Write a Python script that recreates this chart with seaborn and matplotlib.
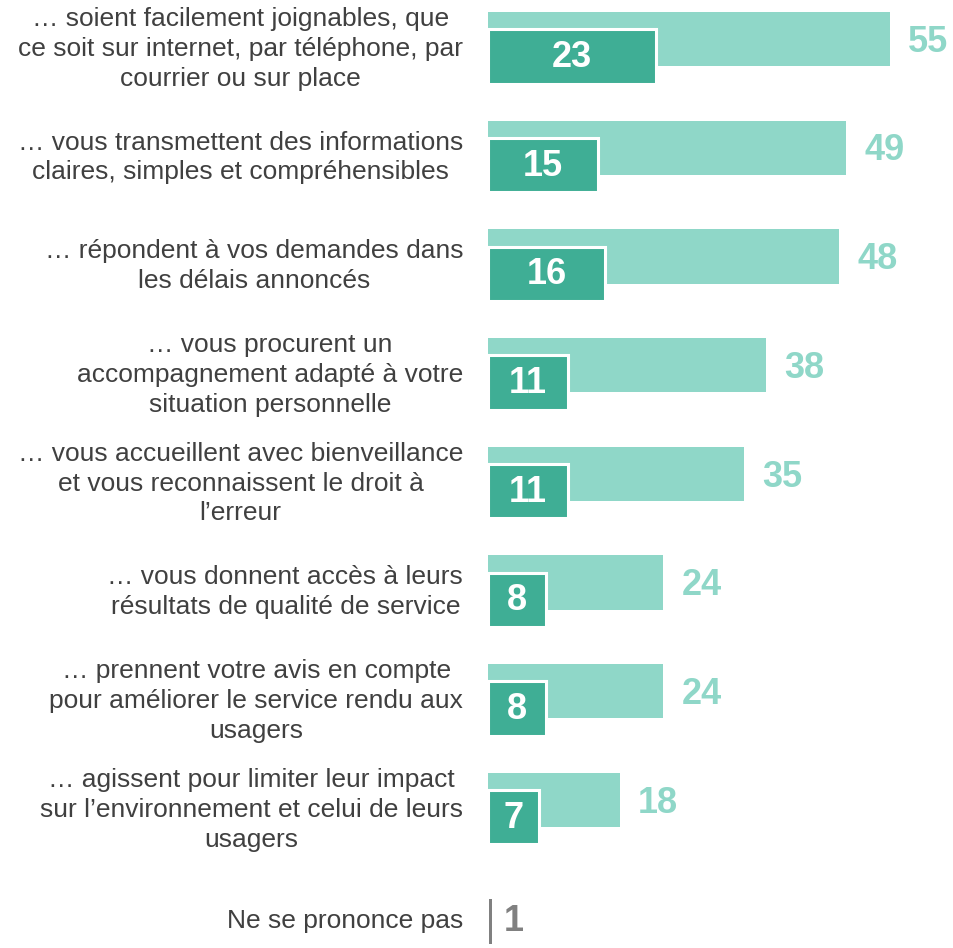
import matplotlib
matplotlib.use('Agg')
import matplotlib.pyplot as plt
import seaborn as sns

labels = [
    "… soient facilement joignables, que\nce soit sur internet, par téléphone, par\ncourrier ou sur place",
    "… vous transmettent des informations\nclaires, simples et compréhensibles",
    "… répondent à vos demandes dans\nles délais annoncés",
    "… vous procurent un\naccompagnement adapté à votre\nsituation personnelle",
    "… vous accueillent avec bienveillance\net vous reconnaissent le droit à\nl’erreur",
    "… vous donnent accès à leurs\nrésultats de qualité de service",
    "… prennent votre avis en compte\npour améliorer le service rendu aux\nusagers",
    "… agissent pour limiter leur impact\nsur l’environnement et celui de leurs\nusagers",
]
total = [55, 49, 48, 38, 35, 24, 24, 18]
first = [23, 15, 16, 11, 11, 8, 8, 7]
nsp_label = "Ne se prononce pas"
nsp_value = 1

sns.set_theme(style='white')
plt.rcParams['font.family'] = ['Liberation Sans', 'DejaVu Sans']

light = '#8fd7c8'
dark = '#3fae95'
text_col = '#404040'

fig = plt.figure(figsize=(9.54, 9.48), dpi=100)
ax = fig.add_axes([488 / 954, 0, 466 / 954, 1])

pos = list(range(len(labels)))
ax.barh(pos, total, height=0.5, color=light, edgecolor='none')
ax.barh([p + 0.16 for p in pos], first, height=0.5, color=dark, edgecolor='white', linewidth=2.2)

num = dict(fontsize=26, fontweight='bold', fontstretch='normal')
for p, lab, t, f in zip(pos, labels, total, first):
    ax.text(-3.4, p + 0.09, lab, ha='right', va='center', multialignment='center',
            fontsize=19, color=text_col, linespacing=1.31)
    ax.text(t + 2.5, p + 0.03, str(t), ha='left', va='center', color=light, **num)
    ax.text(f / 2, p + 0.17, str(f), ha='center', va='center', color='white', **num)

# ne se prononce pas
ny = 8.12
ax.barh([ny], [nsp_value * 0.4], height=0.42, left=0.1, color='#808080', edgecolor='none')
ax.text(-3.4, ny - 0.01, nsp_label, ha='right', va='center', fontsize=19, color=text_col)
ax.text(2.2, ny, str(nsp_value), ha='left', va='center', color='#808080', **num)

ax.set_xlim(0, 466 / 7.31)
ax.set_ylim(948 / 108.7 - 39 / 108.7, -39 / 108.7)
ax.axis('off')
ax.patch.set_visible(False)

fig.savefig('out.png', dpi=100)
